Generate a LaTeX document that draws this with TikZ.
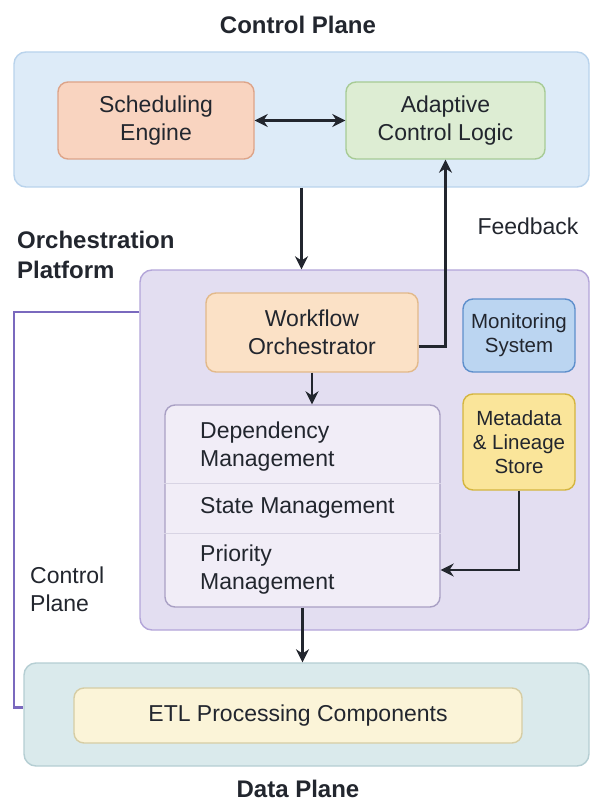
\documentclass[tikz,border=0pt]{standalone}
\usepackage{fontspec}
\setmainfont{Liberation Sans}
\usetikzlibrary{arrows.meta,positioning,calc}
\definecolor{inkc}{HTML}{22262E}
\definecolor{cpfill}{HTML}{DDEBF8}
\definecolor{cpline}{HTML}{B9D3EC}
\definecolor{schedc}{HTML}{F9D4C0}
\definecolor{schedl}{HTML}{DDA489}
\definecolor{adaptc}{HTML}{DDEDD3}
\definecolor{adaptl}{HTML}{A7CB95}
\definecolor{platc}{HTML}{E3DEF1}
\definecolor{platl}{HTML}{B3A5D9}
\definecolor{wfc}{HTML}{FBE1C6}
\definecolor{wfl}{HTML}{E2B98A}
\definecolor{monc}{HTML}{BBD5F1}
\definecolor{monl}{HTML}{5E8FCC}
\definecolor{metac}{HTML}{FAE59A}
\definecolor{metal}{HTML}{D4B53F}
\definecolor{stackc}{HTML}{F1EDF7}
\definecolor{stackl}{HTML}{A9A0C4}
\definecolor{dpc}{HTML}{DAEAEC}
\definecolor{dpl}{HTML}{B5CED3}
\definecolor{etlc}{HTML}{FBF4D8}
\definecolor{etll}{HTML}{D6CDA4}
\definecolor{ctrlc}{HTML}{7A69BE}
\newcommand{\boxfont}{\fontsize{23}{28}\selectfont}
\newcommand{\smallboxfont}{\fontsize{20.5}{24}\selectfont}
\newcommand{\titlefont}{\fontsize{24}{30}\selectfont\bfseries}
\tikzset{
  plane/.style  ={draw,line width=1.4pt,rounded corners=12pt,inner sep=0pt},
  box/.style    ={draw,line width=1.4pt,rounded corners=10pt,align=center,
                  font=\boxfont,text=inkc,inner sep=2pt},
  sched/.style  ={box,draw=schedl,fill=schedc},
  adapt/.style  ={box,draw=adaptl,fill=adaptc},
  wfbox/.style  ={box,draw=wfl,fill=wfc},
  mon/.style    ={box,draw=monl,fill=monc,font=\smallboxfont},
  meta/.style   ={box,draw=metal,fill=metac,font=\smallboxfont},
  etl/.style    ={box,draw=etll,fill=etlc},
  item/.style   ={align=left,font=\boxfont,text=inkc,anchor=west,inner sep=0pt},
  label/.style  ={font=\boxfont,text=inkc,align=left,inner sep=0pt},
  title/.style  ={font=\titlefont,text=inkc,align=left,inner sep=0pt},
  divider/.style={line width=1pt,stackl!45},
  tip/.tip      ={Stealth[length=13pt,width=13pt]},
  flow/.style   ={-tip,line width=2.4pt,inkc},
  ctrlline/.style={line width=2.2pt,ctrlc},
}
\begin{document}
\begin{tikzpicture}[x=1pt,y=-1pt]
  \useasboundingbox[fill=white] (0,0) rectangle (595,805);
  % control plane
  \node[title] (cptitle) at (298,25) {Control Plane};
  \node[plane,draw=cpline,fill=cpfill,minimum width=575pt,minimum height=135pt] (cp) at (301.5,119.5) {};
  \node[sched,minimum width=196pt,minimum height=77pt] (sched) at (156,120.5) {Scheduling\\Engine};
  \node[adapt,minimum width=199pt,minimum height=77pt] (adapt) at (445.5,120.5) {Adaptive\\Control Logic};
  \draw[flow,tip-tip] (sched) -- (adapt);

  % orchestration platform
  \node[title,anchor=west] (optitle) at (17,255) {Orchestration\\Platform};
  \node[plane,draw=platl,fill=platc,minimum width=449pt,minimum height=360pt] (plat) at (364.5,450) {};
  \node[wfbox,minimum width=212pt,minimum height=79pt] (wf) at (312,332.5) {Workflow\\Orchestrator};
  \node[mon,minimum width=112pt,minimum height=73pt] (mon) at (519,335.5) {Monitoring\\System};
  \node[meta,minimum width=112pt,minimum height=96pt] (meta) at (519,442) {Metadata\\\& Lineage\\Store};
  \node[box,draw=stackl,fill=stackc,minimum width=275pt,minimum height=202pt] (stack) at (302.5,506) {};
  \node[item] (dep) at (200,447) {Dependency\\Management};
  \node[item] (state) at (200,508) {State Management};
  \node[item] (prio) at (200,570) {Priority\\Management};
  \draw[divider] (stack.west |- 0,483) -- (stack.east |- 0,483);
  \draw[divider] (stack.west |- 0,533) -- (stack.east |- 0,533);

  % data plane
  \node[plane,draw=dpl,fill=dpc,minimum width=565pt,minimum height=103pt] (dp) at (306.5,714.5) {};
  \node[etl,minimum width=448pt,minimum height=55pt] (etl) at (298,715.5) {ETL Processing Components};
  \node[title] (dptitle) at (298,789) {Data Plane};

  % connectors
  \draw[flow] (cp.south) -- (cp.south |- plat.north);
  \draw[flow] ([yshift=-14pt]wf.east) -| (adapt.south);
  \node[label] (fblabel) at (528,226) {Feedback};
  \draw[flow] (wf.south) -- (wf.south |- stack.north);
  \draw[flow] (meta.south) |- (stack.east |- prio);
  \draw[flow] (stack.south) -- (stack.south |- dp.north);
  \coordinate (cbend) at (14,312);
  \draw[ctrlline] (plat.west |- cbend) -- (cbend) |- ([yshift=7pt]dp.west);
  \node[label,anchor=west] (cplabel) at (30,589) {Control\\Plane};
\end{tikzpicture}
\end{document}
